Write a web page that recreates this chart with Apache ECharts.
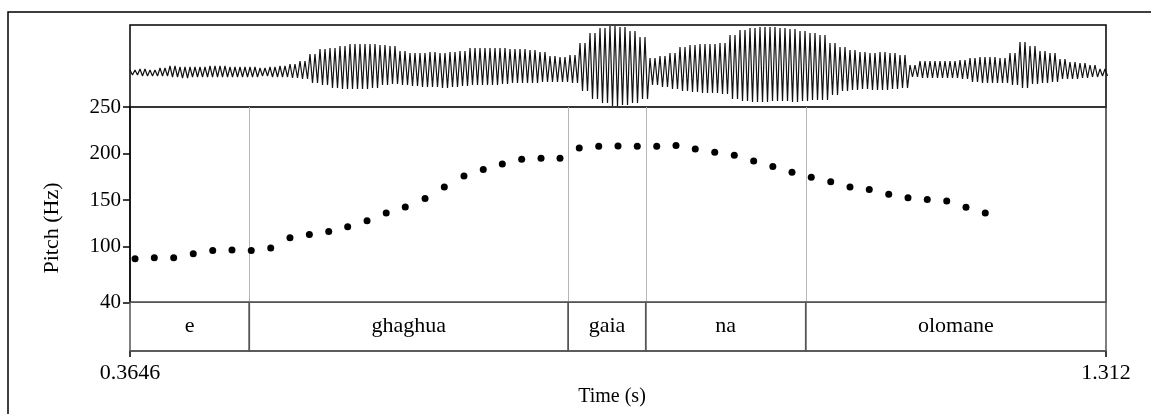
<!DOCTYPE html>
<html><head><meta charset="utf-8">
<script src="https://cdn.jsdelivr.net/npm/echarts@6/dist/echarts.min.js"></script>
<style>html,body{margin:0;padding:0;background:#fff}#c{width:1151px;height:414px}</style>
</head><body><div id="c"></div>
<script>
// ---- data ----
const timeMin = 0.3646, timeMax = 1.312;
const timeTicks = [0.3646, 1.312];
const pitchTicks = [40, 100, 150, 200, 250];
const pitchTimes = [0.3695,0.3882,0.4070,0.4260,0.4449,0.4636,0.4823,0.5012,0.5199,0.5387,
  0.5575,0.5759,0.5947,0.6133,0.6318,0.6510,0.6697,0.6888,0.7075,0.7260,
  0.7448,0.7636,0.7820,0.8007,0.8196,0.8383,0.8570,0.8759,0.8946,0.9133,
  0.9322,0.9512,0.9700,0.9886,1.0072,1.0259,1.0448,1.0635,1.0822,1.1011,
  1.1198,1.1385,1.1574,1.1761,1.1948];
const pitchHz = [86.8,87.9,87.9,92.2,95.8,96.2,95.8,98.3,109.4,113.0,
  116.2,121.2,127.6,135.9,142.6,151.7,164.1,175.9,182.8,188.8,
  193.9,194.9,194.9,206.0,207.8,208.1,207.8,207.8,208.6,204.9,
  201.4,198.1,192.0,186.0,179.9,174.5,169.5,164.1,161.3,156.3,
  152.3,150.6,148.8,142.3,135.9];
const tierLabels = ['e', 'ghaghua', 'gaia', 'na', 'olomane'];
const tierBounds = [0.3646, 0.4804, 0.7900, 0.8652, 1.0205, 1.312];
// waveform envelope (peak above / trough below the zero line), one reading per cell
const waveStart = 0.3646, waveStep = 0.009707;
const waveUp = [3,4,3,5,7,6,6,6,7,7, 6,6,6,5,6,7,9,12,19,24,
  25,27,29,29,29,28,27,22,20,20, 21,20,21,22,25,25,25,25,24,24,
  23,21,17,16,18,30,40,45,47,46, 42,36,15,17,20,26,28,29,29,30,
  38,43,45,46,46,45,44,42,40,38, 30,26,23,21,20,21,20,18,8,12,
  12,12,12,13,15,16,16,15,20,31, 27,22,20,14,11,10,8,4];
const waveDown = [2,3,3,3,4,5,4,4,4,4, 4,4,4,3,4,4,5,6,10,12,
  15,16,16,16,15,12,11,12,13,14, 14,15,14,13,12,12,12,11,10,10,
  10,9,9,9,10,18,26,30,33,32, 30,26,12,14,16,18,19,20,20,21,
  26,28,29,29,28,28,29,28,27,27, 22,18,17,16,17,17,16,15,4,5,
  5,5,5,6,9,10,10,10,12,15, 11,10,9,6,6,5,4,3];

// ---- build ----
const FONT = '"Liberation Serif", "Times New Roman", serif';
const waveData = [];
waveUp.forEach((u, i) => {
  const t = waveStart + i * waveStep;
  const d = -waveDown[i];
  waveData.push([t, u], [t + waveStep * 0.25, d], [t + waveStep * 0.5, u], [t + waveStep * 0.75, d]);
});
const pitchData = pitchTimes.map((t, i) => [t, pitchHz[i]]);
const tierData = tierLabels.map((l, i) => [tierBounds[i], tierBounds[i + 1]]);
const boundData = tierBounds.slice(1, -1).map(v => [v]);

const L = 130, W = 976;
const chart = echarts.init(document.getElementById('c'), null, {renderer: 'canvas'});
const hiddenX = (gi) => ({type: 'value', gridIndex: gi, min: timeMin, max: timeMax, show: false});
chart.setOption({
  animation: false,
  backgroundColor: '#fff',
  grid: [
    {left: L, width: W, top: 25, height: 82, show: true, borderColor: '#000', borderWidth: 1.5, backgroundColor: 'transparent'},
    {left: L, width: W, top: 107, height: 195.3, show: true, borderColor: '#333', borderWidth: 1.5, backgroundColor: 'transparent'},
    {left: L, width: W, top: 302.3, height: 48.7, show: false}
  ],
  xAxis: [
    hiddenX(0), hiddenX(1),
    {type: 'value', gridIndex: 2, min: timeMin, max: timeMax, position: 'bottom',
      axisLine: {show: true, lineStyle: {color: '#444', width: 1.5}},
      axisTick: {show: true, length: 6, customValues: timeTicks, lineStyle: {color: '#000', width: 1.5}},
      axisLabel: {show: true, customValues: timeTicks, showMinLabel: true, showMaxLabel: true, margin: 11,
        fontFamily: FONT, fontSize: 22, color: '#000', formatter: (v) => String(v)},
      splitLine: {show: false},
      name: 'Time (s)', nameLocation: 'middle', nameGap: 36,
      nameTextStyle: {fontFamily: FONT, fontSize: 20, color: '#000', padding: [0, 12, 0, 0]}}
  ],
  yAxis: [
    {type: 'value', gridIndex: 0, min: -34, max: 48, show: false},
    {type: 'value', gridIndex: 1, min: 40, max: 250,
      axisLine: {show: true, lineStyle: {color: '#000', width: 1.5}},
      axisTick: {show: true, length: 7, customValues: pitchTicks, lineStyle: {color: '#000', width: 1.5}},
      axisLabel: {show: true, customValues: pitchTicks, showMinLabel: true, showMaxLabel: true, margin: 9,
        fontFamily: FONT, fontSize: 21, color: '#000'},
      splitLine: {show: false}},
    {type: 'value', gridIndex: 2, min: 0, max: 1, show: false}
  ],
  graphic: [
    {type: 'rect', shape: {x: 8, y: 12, width: 1200, height: 500}, style: {fill: 'none', stroke: '#000', lineWidth: 1.5}, z: 0, silent: true},
    {type: 'text', x: 52, y: 228, rotation: Math.PI / 2,
      style: {text: 'Pitch (Hz)', font: '22px ' + FONT, fill: '#000', align: 'center', verticalAlign: 'middle'}}
  ],
  series: [
    {type: 'line', xAxisIndex: 0, yAxisIndex: 0, data: waveData, showSymbol: false, sampling: null,
      lineStyle: {color: '#111', width: 1.2}, silent: true},
    {type: 'custom', xAxisIndex: 1, yAxisIndex: 1, data: boundData, encode: {x: 0}, silent: true, z: 1,
      renderItem: (params, api) => {
        const top = api.coord([api.value(0), 250]);
        const bot = api.coord([api.value(0), 40]);
        return {type: 'line', shape: {x1: Math.round(top[0]) + 0.5, y1: top[1], x2: Math.round(bot[0]) + 0.5, y2: bot[1]},
          style: {stroke: '#b5b5b5', lineWidth: 1}};
      }},
    {type: 'scatter', xAxisIndex: 1, yAxisIndex: 1, data: pitchData, symbol: 'circle', symbolSize: 7,
      itemStyle: {color: '#000', opacity: 1}, silent: true, z: 3},
    {type: 'custom', xAxisIndex: 2, yAxisIndex: 2, data: tierData, encode: {x: [0, 1]},
      renderItem: (params, api) => {
        const s = api.coord([api.value(0), 1]);
        const e = api.coord([api.value(1), 0]);
        return {type: 'group', children: [
          {type: 'rect', shape: {x: s[0], y: s[1], width: e[0] - s[0], height: e[1] - s[1]},
            style: {fill: 'none', stroke: '#555', lineWidth: 1.5}},
          {type: 'text', style: {text: tierLabels[params.dataIndex], x: (s[0] + e[0]) / 2, y: (s[1] + e[1]) / 2,
            align: 'center', verticalAlign: 'middle', font: '22px ' + FONT, fill: '#000'}}
        ]};
      }}
  ]
});
</script></body></html>
